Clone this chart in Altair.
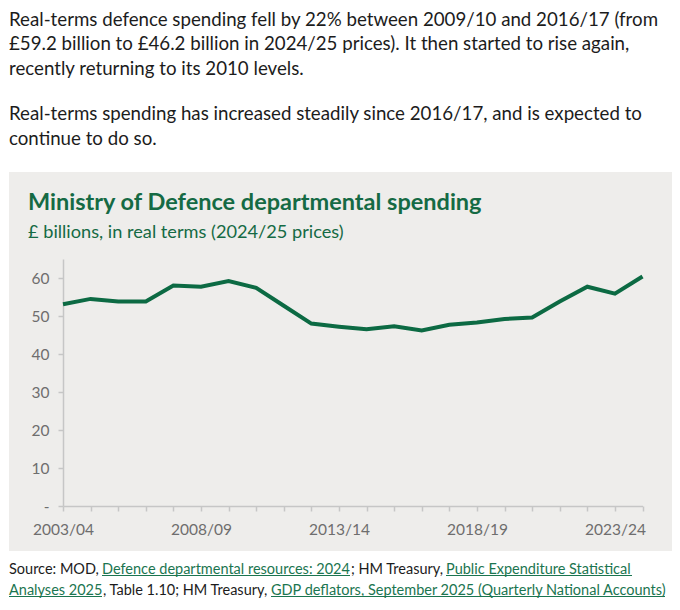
import altair as alt
import pandas as pd

# ---------------- data ----------------
years = ["2003/04", "2004/05", "2005/06", "2006/07", "2007/08", "2008/09",
         "2009/10", "2010/11", "2011/12", "2012/13", "2013/14", "2014/15",
         "2015/16", "2016/17", "2017/18", "2018/19", "2019/20", "2020/21",
         "2021/22", "2022/23", "2023/24", "2024/25"]
spending = [53.1, 54.5, 53.8, 53.8, 58.0, 57.7,
            59.2, 57.4, 52.7, 48.0, 47.2, 46.5,
            47.3, 46.2, 47.7, 48.3, 49.2, 49.6,
            53.8, 57.7, 55.9, 60.4]
label_years = ["2003/04", "2008/09", "2013/14", "2018/19", "2023/24"]
y_ticks = [0, 10, 20, 30, 40, 50, 60]

para1 = ["Real-terms defence spending fell by 22% between 2009/10 and 2016/17 (from",
         "£59.2 billion to £46.2 billion in 2024/25 prices). It then started to rise again,",
         "recently returning to its 2010 levels."]
para2 = ["Real-terms spending has increased steadily since 2016/17, and is expected to",
         "continue to do so."]
title_text = "Ministry of Defence departmental spending"
subtitle_text = "£ billions, in real terms (2024/25 prices)"

source_line1 = ["Source: MOD, ", "Defence departmental resources: 2024",
                "; HM Treasury, ", "Public Expenditure Statistical"]
source_line1_link = [False, True, False, True]
source_line2 = ["Analyses 2025", ", Table 1.10; HM Treasury, ",
                "GDP deflators, September 2025 (Quarterly National Accounts)"]
source_line2_link = [True, False, True]

# ---------------- style / layout ----------------
FONT = "Lato"
GREEN_LINE = "#0c6a43"
GREEN_TITLE = "#156a44"
PANEL = "#eeedeb"
TEXT = "#1c1c1c"
AXIS = "#c6c6c6"
LABEL = "#6e6e6e"
LINK = "#1b7550"

W = 663
TOP_H = 164
MID_H = 379
BOT_H = 51
X_RANGE = [54, 633.5]
Y_RANGE = [334, 87]

line1_x = [0, 93, 342, 437]
line1_w = [86, 248, 92, 186]
line2_x = [0, 94, 262]
line2_w = [93, 160, 394]

df = pd.DataFrame({"year": years, "spending": spending})
one = pd.DataFrame({"k": [0]})

# ---------------- top paragraph text ----------------
def para(lines, y0):
    return alt.Chart(one).mark_text(
        align="left", baseline="alphabetic", font=FONT, fontSize=18.7,
        color=TEXT, lineBreak="\n", lineHeight=24.5
    ).encode(x=alt.value(0), y=alt.value(y0), text=alt.value("\n".join(lines)))

top = alt.layer(para(para1, 17.5), para(para2, 112)).properties(
    width=W, height=TOP_H, view=alt.ViewBackground(stroke=None)
)

# ---------------- main panel ----------------
label_expr = "indexof(" + str(label_years) + ", datum.value) >= 0 ? datum.value : ''"

line = alt.Chart(df).mark_line(color=GREEN_LINE, strokeWidth=4).encode(
    x=alt.X("year:O", sort=years,
            scale=alt.Scale(type="point", range=X_RANGE, padding=0),
            axis=alt.Axis(title=None, labelExpr=label_expr, labelAngle=0,
                          labelOverlap=False, offset=-(MID_H - Y_RANGE[0]),
                          tickSize=5, labelPadding=11, domainColor=AXIS,
                          tickColor=AXIS, domainWidth=1.5, tickWidth=1.5,
                          labelColor=LABEL, labelFont=FONT, labelFontSize=15.5,
                          grid=False)),
    y=alt.Y("spending:Q",
            scale=alt.Scale(domain=[0, 65], range=Y_RANGE, nice=False),
            axis=alt.Axis(title=None, values=y_ticks, offset=-X_RANGE[0],
                          labelExpr="datum.value == 0 ? '-' : datum.label",
                          tickSize=5, labelPadding=9, domainColor=AXIS,
                          tickColor=AXIS, domainWidth=1.5, tickWidth=1.5,
                          labelColor=LABEL, labelFont=FONT, labelFontSize=15.5,
                          grid=False)),
)

title_l = alt.Chart(one).mark_text(
    align="left", baseline="middle", font=FONT, fontSize=23.5, fontWeight="bold",
    color=GREEN_TITLE
).encode(x=alt.value(19), y=alt.value(31), text=alt.value(title_text))

sub_l = alt.Chart(one).mark_text(
    align="left", baseline="middle", font=FONT, fontSize=18.2, color=GREEN_TITLE
).encode(x=alt.value(19), y=alt.value(61), text=alt.value(subtitle_text))

mid = alt.layer(line, title_l, sub_l).properties(
    width=W, height=MID_H, view=alt.ViewBackground(fill=PANEL, stroke=None)
)

# ---------------- source ----------------
def src_layers(segs, links, xs, ws, y):
    out = []
    for s, lk, x0, w in zip(segs, links, xs, ws):
        out.append(alt.Chart(one).mark_text(
            align="left", baseline="middle", font=FONT, fontSize=14.5,
            color=LINK if lk else TEXT
        ).encode(x=alt.value(x0), y=alt.value(y), text=alt.value(s)))
        if lk:
            out.append(alt.Chart(one).mark_rule(color=LINK, strokeWidth=1).encode(
                x=alt.value(x0), x2=alt.value(x0 + w), y=alt.value(y + 5.5)))
    return out

bot = alt.layer(
    *src_layers(source_line1, source_line1_link, line1_x, line1_w, 19),
    *src_layers(source_line2, source_line2_link, line2_x, line2_w, 40),
).properties(width=W, height=BOT_H, view=alt.ViewBackground(stroke=None))

chart = alt.vconcat(top, mid, bot, spacing=0).properties(
    padding=0, background="white"
).configure_view(stroke=None)

chart.save("out.html", embed_options={"renderer": "svg", "actions": False})
